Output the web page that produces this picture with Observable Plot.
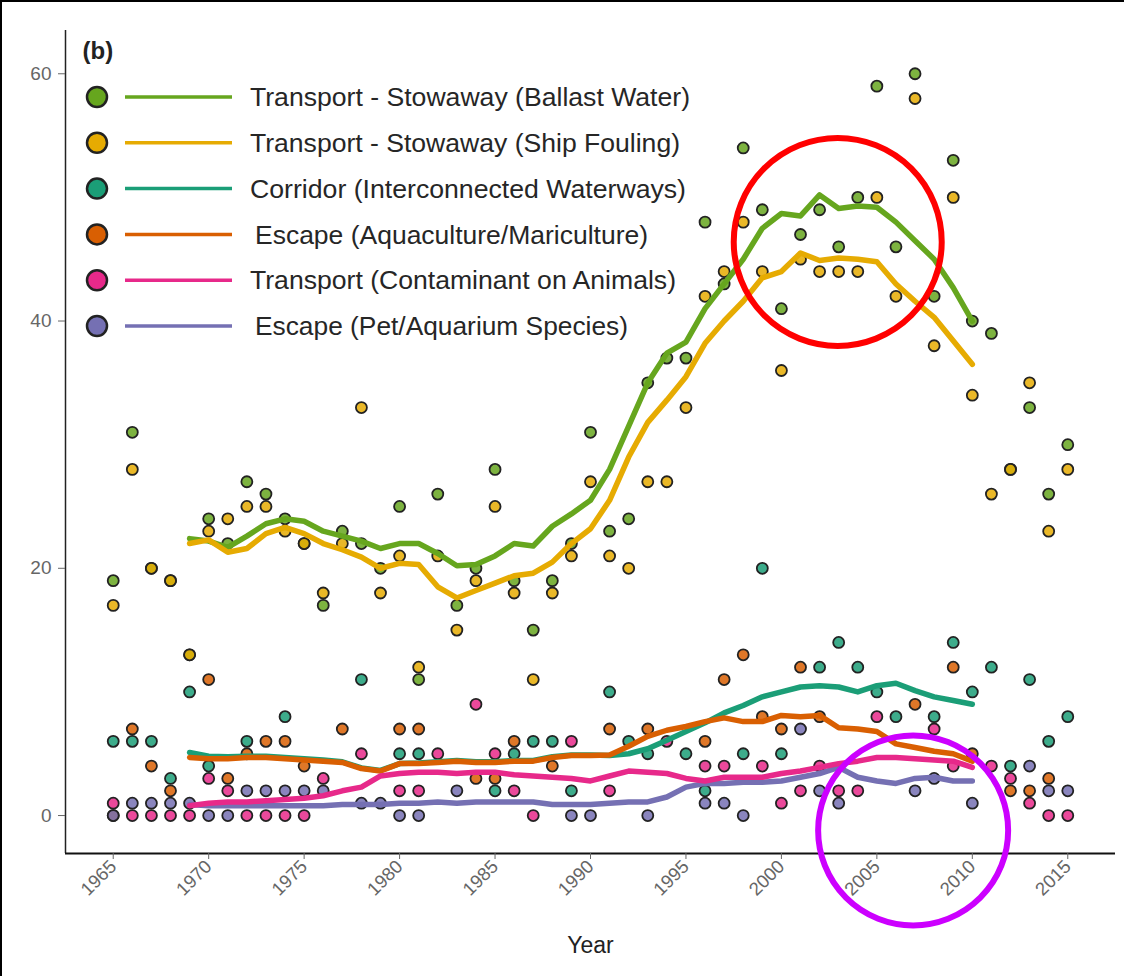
<!DOCTYPE html>
<html>
<head>
<meta charset="utf-8">
<script src="https://cdn.jsdelivr.net/npm/d3@7"></script>
<script src="https://cdn.jsdelivr.net/npm/@observablehq/plot@0.6"></script>
<style>
  html, body { margin: 0; padding: 0; background: #fff; }
  #wrap { position: relative; width: 1124px; height: 976px; overflow: hidden; font-family: "Liberation Sans", Arial, sans-serif; }
  #wrap > svg, #wrap > div { position: absolute; left: 0; top: 0; }
  #frame { position: absolute; left: 9px; top: 6px; width: 1130px; height: 990px; border-left: 2px solid #000; border-top: 2px solid #000; pointer-events: none; }
</style>
</head>
<body>
<div id="wrap"><div id="chart"></div><svg id="legend" width="1124" height="976"></svg><div id="frame"></div></div>
<script>
// ---- categories & colours ----
const seriesNames = [
  "Transport - Stowaway (Ballast Water)",
  "Transport - Stowaway (Ship Fouling)",
  "Corridor (Interconnected Waterways)",
  "Escape (Aquaculture/Mariculture)",
  "Transport (Contaminant on Animals)",
  "Escape (Pet/Aquarium Species)"
];
const seriesColors = ["#66a61e", "#e6ab02", "#1b9e77", "#d95f02", "#e7298a", "#7570b3"];

// ---- yearly counts (points), 1965..2015 ----
const pointYears = d3.range(1965, 2016);
const ballastPts  = [19,31,20,19,13,24,22,27,26,24,22,17,23,22,20,25,11,26,17,20,28,19,15,19,22,31,23,24,35,37,37,48,43,54,49,41,47,49,46,50,59,46,60,42,53,40,39,28,33,26,30];
const foulingPts  = [17,28,20,19,13,23,24,25,25,23,22,18,22,33,18,21,12,21,15,19,25,18,11,18,21,27,21,20,27,27,33,42,44,48,44,36,45,44,44,44,50,42,58,38,50,34,26,28,35,23,28];
const corridorPts = [6,6,6,3,10,4,null,6,null,8,null,null,null,11,null,5,5,null,null,null,2,5,6,6,2,null,10,6,5,null,5,2,null,5,20,5,null,12,14,12,10,8,null,8,14,10,12,4,11,6,8];
const aquaPts     = [0,7,4,2,null,11,3,5,6,6,4,null,7,null,null,7,7,null,null,3,3,6,null,4,null,null,7,null,7,null,null,6,11,13,8,7,12,8,null,null,null,null,9,null,12,5,null,2,2,3,null];
const contamPts   = [1,0,0,0,0,3,2,0,0,0,0,3,null,5,null,2,2,5,null,9,5,2,0,null,6,null,2,null,null,6,null,4,4,null,4,1,2,4,2,2,8,null,null,7,4,null,4,3,1,0,0];
const petPts      = [0,1,1,1,1,0,0,2,2,2,2,2,null,1,1,0,0,null,2,null,null,null,null,null,0,0,null,null,0,null,null,1,1,0,null,null,7,2,1,null,null,null,2,3,null,1,null,null,4,2,2];

// ---- smoothed trend lines, 1969..2010 ----
const lineYears = d3.range(1969, 2011);
const ballastLine  = [22.4,22.2,21.7,22.6,23.6,24,23.8,23,22.6,22.2,21.6,22,22,21.2,20.2,20.3,21,22,21.8,23.4,24.4,25.5,28,31.5,35,37.4,38.3,41,43,45,47.5,48.7,48.5,50.2,49.1,49.3,49.2,48,46.5,45,42.7,40];
const foulingLine  = [22,22.3,21.3,21.6,22.8,23.3,22.8,22,21.5,20.9,20,20.4,20.3,18.5,17.6,18.2,18.8,19.4,19.6,20.5,22,23.2,25.5,29,31.8,33.6,35.5,38.2,40,41.6,43.5,44,45.5,44.9,45.1,45,44.8,43,41.6,40.3,38.4,36.5];
const corridorLine = [5.1,4.8,4.75,4.8,4.8,4.7,4.6,4.5,4.35,3.85,3.65,4.2,4.25,4.35,4.45,4.35,4.35,4.45,4.45,4.75,4.9,4.9,4.85,5.0,5.4,6.1,6.8,7.5,8.3,8.9,9.6,10.0,10.4,10.5,10.4,10.0,10.5,10.7,10.1,9.6,9.3,9.0];
const aquaLine     = [4.7,4.6,4.6,4.7,4.7,4.6,4.5,4.4,4.3,3.8,3.6,4.2,4.2,4.3,4.4,4.3,4.3,4.4,4.4,4.7,4.85,4.85,4.9,5.6,6.4,6.9,7.2,7.6,7.9,7.6,7.6,8.1,8.0,8.1,7.1,7.0,6.8,5.8,5.5,5.2,5.0,4.4];
const contamLine   = [0.8,1.0,1.1,1.1,1.2,1.3,1.4,1.6,2.0,2.3,3.2,3.4,3.5,3.5,3.4,3.5,3.5,3.3,3.2,3.1,3.0,2.8,3.2,3.6,3.5,3.4,3.0,2.8,3.1,3.1,3.1,3.4,3.6,3.9,4.2,4.4,4.7,4.7,4.6,4.5,4.4,3.9];
const petLine      = [0.9,0.8,0.8,0.8,0.8,0.8,0.8,0.8,0.9,0.9,0.9,1.0,1.0,1.1,1.0,1.1,1.1,1.1,1.1,0.9,0.9,0.9,1.0,1.1,1.1,1.5,2.3,2.6,2.6,2.7,2.7,2.8,3.1,3.4,3.9,3.1,2.8,2.6,3.0,3.1,2.8,2.8];

// ---- axis ticks & annotation circles ----
const xTicks = [1965,1970,1975,1980,1985,1990,1995,2000,2005,2010,2015];
const yTicks = [0,20,40,60];
const redCircle = [{year: 2002.95, value: 46.4}];
const violetCircle = [{year: 2006.9, value: -1.2}];

// ---- build tables ----
const ptsBySeries = [ballastPts, foulingPts, corridorPts, aquaPts, contamPts, petPts];
const linesBySeries = [ballastLine, foulingLine, corridorLine, aquaLine, contamLine, petLine];
const points = [];
ptsBySeries.forEach((arr, si) => arr.forEach((v, i) => { if (v != null) points.push({year: pointYears[i], value: v, series: seriesNames[si]}); }));
// line drawing order: pet under contaminant, corridor under aquaculture
const lineOrder = [0, 1, 2, 3, 5, 4];
const lines = [];
lineOrder.forEach(si => linesBySeries[si].forEach((v, i) => lines.push({year: lineYears[i], value: v, series: seriesNames[si]})));

const colorScale = {domain: seriesNames, range: seriesColors};
const xDom = [1962.5, 2017.5], yDom = [-3.07, 63.5];

const chart = Plot.plot({
  width: 1124, height: 976,
  marginLeft: 65, marginRight: 9, marginTop: 30, marginBottom: 123,
  x: {domain: xDom},
  y: {domain: yDom},
  color: colorScale,
  style: {fontFamily: "'Liberation Sans', Arial, sans-serif", background: "transparent", overflow: "visible"},
  marks: [
    Plot.ruleX([xDom[0]], {y1: yDom[0], y2: yDom[1], stroke: "#222", strokeWidth: 1.5}),
    Plot.ruleY([yDom[0]], {x1: xDom[0], x2: xDom[1], stroke: "#111", strokeWidth: 2.2}),
    Plot.axisY({ticks: yTicks, tickSize: 7, tickPadding: 7, fontSize: 19, color: "#666", label: null}),
    Plot.axisX({ticks: xTicks, tickFormat: d => String(d), tickSize: 6, tickPadding: 4, tickRotate: -45, fontSize: 18.5, color: "#666", label: null}),
    Plot.dot(points, {x: "year", y: "value", fill: "series", r: 5.5, stroke: "#222", strokeWidth: 1.8, fillOpacity: 0.85}),
    Plot.line(lines, {x: "year", y: "value", z: "series", stroke: "series", strokeWidth: 5.5, curve: "linear"}),
    Plot.text(["Year"], {frameAnchor: "bottom", dy: 99, fontSize: 23, fill: "#222"}),
    Plot.text(["(b)"], {frameAnchor: "top-left", dx: 17, dy: 11, fontSize: 24, fontWeight: "bold", textAnchor: "start", fill: "#222"}),
    Plot.dot(redCircle, {x: "year", y: "value", r: 104, stroke: "#ff0000", strokeWidth: 6, fill: "none"}),
    Plot.dot(violetCircle, {x: "year", y: "value", r: 95, stroke: "#cc00ff", strokeWidth: 6, fill: "none"})
  ]
});
document.getElementById("chart").appendChild(chart);

// ---- legend (top-left, inside the panel) ----
const leg = d3.select("#legend");
const rowY0 = 97, rowStep = 45.8;
const textX = [250, 250, 250, 255, 250, 255];
const textLen = [440, 430, 436, 393, 426, 373];
seriesNames.forEach((name, i) => {
  const y = rowY0 + i * rowStep;
  leg.append("line").attr("x1", 125).attr("x2", 232).attr("y1", y).attr("y2", y)
    .attr("stroke", seriesColors[i]).attr("stroke-width", 3.5);
  leg.append("circle").attr("cx", 97).attr("cy", y).attr("r", 10)
    .attr("fill", seriesColors[i]).attr("stroke", "#222").attr("stroke-width", 2.5);
  leg.append("text").attr("x", textX[i]).attr("y", y).attr("dy", "0.35em")
    .attr("font-size", 26).attr("fill", "#262626")
    .attr("font-family", "'Liberation Sans', Arial, sans-serif")
    .attr("textLength", textLen[i]).attr("lengthAdjust", "spacingAndGlyphs")
    .text(name);
});
</script>
</body>
</html>
